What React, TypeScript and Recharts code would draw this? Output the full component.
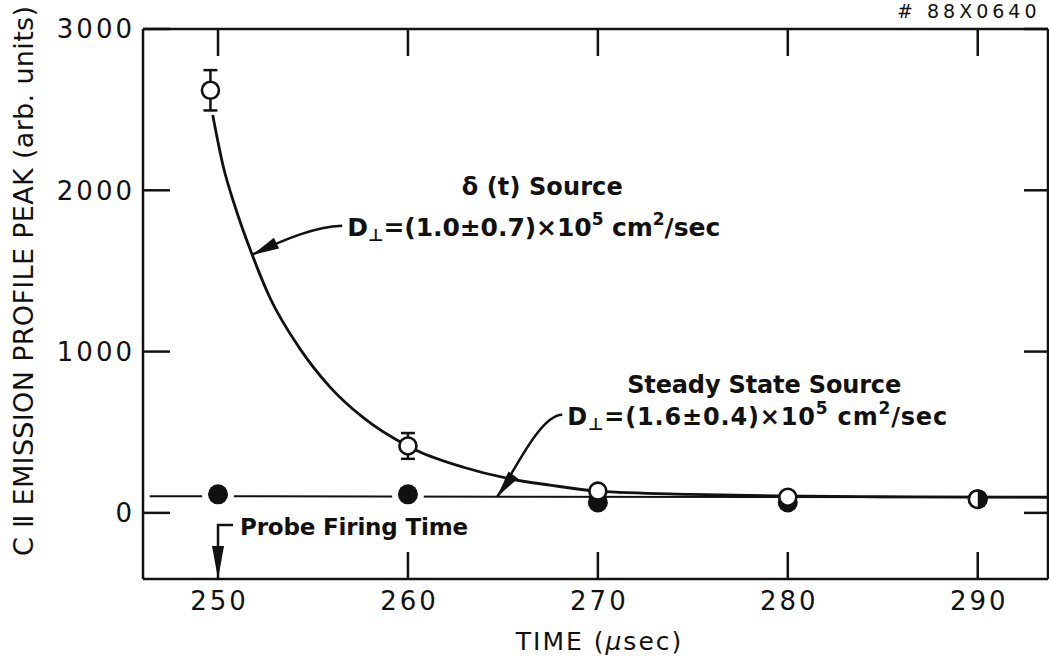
import React from 'react';
import {
  ComposedChart,
  ErrorBar,
  Label,
  Line,
  ReferenceDot,
  Scatter,
  XAxis,
  YAxis,
} from 'recharts';

// axis ticks: time in µs, peak in arbitrary units
const timeTicks = [250, 260, 270, 280, 290];
const peakTicks = [0, 1000, 2000, 3000];

// δ(t) source measurements (open circles) with their error half-widths
const deltaTimes = [249.6, 260, 270, 280, 290];
const deltaPeaks = [2620, 415, 135, 97, 85];
const deltaErrors = [125, 80, 0, 0, 0];

// steady state source measurements (filled circles)
const steadyTimes = [250, 260, 270, 280, 290];
const steadyPeaks = [115, 115, 65, 65, 85];

// fitted curve for the δ(t) source model
const deltaFitTimes = [
  249.72, 250.28, 250.9, 251.77, 252.74, 254.3, 255.9, 257.65, 260, 260.46,
  262.92, 265.2, 267.48, 270, 274.85, 279.4, 284.9, 293.7,
];
const deltaFitPeaks = [
  2467, 2146, 1898, 1609, 1332, 1020, 780, 590, 414, 387,
  283, 215, 172, 135, 115, 105, 100, 97,
];

// fitted level for the steady state model
const steadyFitTimes = [246.4, 293.7];
const steadyFitPeaks = [103, 97];

const TIME_DOMAIN: [number, number] = [246.05, 293.7];
const PEAK_DOMAIN: [number, number] = [-410, 3000];

type Row = { t: number; v: number; err?: number };

const toRows = (ts: number[], vs: number[], errs?: number[]): Row[] =>
  ts.map((t, i) => (errs ? { t, v: vs[i], err: errs[i] } : { t, v: vs[i] }));

const deltaRows = toRows(deltaTimes, deltaPeaks, deltaErrors);
const steadyRows = toRows(steadyTimes, steadyPeaks);
const deltaFitRows = toRows(deltaFitTimes, deltaFitPeaks);
const steadyFitRows = toRows(steadyFitTimes, steadyFitPeaks);

const INK = '#111';
const FONT = '"DejaVu Sans", sans-serif';
const TICK_LEN = 27;
const FRAME = { stroke: INK, strokeWidth: 2.5 };

// filled triangle pointing at (tx, ty), coming from (fx, fy)
function arrowHead(tx: number, ty: number, fx: number, fy: number, len: number, half: number) {
  const dx = tx - fx;
  const dy = ty - fy;
  const d = Math.hypot(dx, dy) || 1;
  const ux = dx / d;
  const uy = dy / d;
  const bx = tx - ux * len;
  const by = ty - uy * len;
  return `M${tx},${ty} L${bx - uy * half},${by + ux * half} L${bx + uy * half},${by - ux * half} Z`;
}

function BottomTick({ x, y, payload }: any) {
  return (
    <g>
      <line x1={x} y1={y} x2={x} y2={y - TICK_LEN} {...FRAME} />
      <text x={x + 1.5} y={y + 31} textAnchor="middle" fontFamily={FONT} fontSize={26} letterSpacing={3} fill={INK}>
        {payload.value}
      </text>
    </g>
  );
}

function TopTick({ x, y }: any) {
  return <line x1={x} y1={y} x2={x} y2={y + TICK_LEN} {...FRAME} />;
}

function LeftTick({ x, y, payload }: any) {
  return (
    <g>
      <line x1={x} y1={y} x2={x + TICK_LEN} y2={y} {...FRAME} />
      <text x={x - 8} y={y} dy="0.355em" textAnchor="end" fontFamily={FONT} fontSize={26} letterSpacing={3} fill={INK}>
        {payload.value}
      </text>
    </g>
  );
}

function RightTick({ x, y }: any) {
  return <line x1={x} y1={y} x2={x - TICK_LEN + 3} y2={y} {...FRAME} />;
}

// open circle; where both sources share a point, a split marker
function OpenMark({ cx, cy, payload }: any) {
  const shared = steadyRows.some((p) => p.t === payload.t && p.v === payload.v);
  if (shared) {
    return (
      <g>
        <circle cx={cx} cy={cy} r={10} fill={INK} />
        <path d={`M${cx},${cy - 7.5} A7.5,7.5 0 0 0 ${cx},${cy + 7.5} Z`} fill="#fff" />
      </g>
    );
  }
  return <circle cx={cx} cy={cy} r={8.5} fill="#fff" stroke={INK} strokeWidth={2.6} />;
}

// filled circle, cleared around where it stands alone on the fit line
function SolidMark({ cx, cy, payload }: any) {
  const covered = deltaRows.some((p) => p.t === payload.t && Math.abs(p.v - payload.v) < 150);
  return (
    <g>
      {!covered && <circle cx={cx} cy={cy} r={16} fill="#fff" />}
      <circle cx={cx} cy={cy} r={10} fill={INK} />
    </g>
  );
}

const SUB = 17;

function DeltaNote({ cx, cy }: any) {
  const p0 = [cx + 90, cy - 29];
  const c1 = [cx + 63, cy - 28];
  const c2 = [cx + 33, cy - 16];
  return (
    <g fontFamily={FONT} fontWeight="bold" fill={INK}>
      <path d={`M${p0} C${c1} ${c2} ${cx},${cy}`} fill="none" stroke={INK} strokeWidth={2.5} />
      <path d={arrowHead(cx, cy, c2[0], c2[1], 27, 6)} fill={INK} />
      <text x={cx + 290} y={cy - 60} textAnchor="middle" fontSize={24} textLength={161} lengthAdjust="spacing">
        δ (t) Source
      </text>
      <text x={cx + 95} y={cy - 19} fontSize={25} textLength={373} lengthAdjust="spacing">
        D<tspan fontSize={SUB} dy={5}>⊥</tspan>
        <tspan dy={-5}>=(1.0±0.7)×10</tspan>
        <tspan fontSize={SUB} dy={-11}>5</tspan>
        <tspan dy={11}> cm</tspan>
        <tspan fontSize={SUB} dy={-11}>2</tspan>
        <tspan dy={11}>/sec</tspan>
      </text>
    </g>
  );
}

function SteadyNote({ cx, cy }: any) {
  const p0 = [cx + 65, cy - 82];
  const c1 = [cx + 42, cy - 82];
  const c2 = [cx + 14, cy - 19];
  return (
    <g fontFamily={FONT} fontWeight="bold" fill={INK}>
      <path d={`M${p0} C${c1} ${c2} ${cx},${cy}`} fill="none" stroke={INK} strokeWidth={2.5} />
      <path d={arrowHead(cx, cy, c2[0], c2[1], 27, 6)} fill={INK} />
      <text x={cx + 267} y={cy - 104} textAnchor="middle" fontSize={24} textLength={274} lengthAdjust="spacing">
        Steady State Source
      </text>
      <text x={cx + 70} y={cy - 72} fontSize={24} textLength={380} lengthAdjust="spacing">
        D<tspan fontSize={SUB} dy={5}>⊥</tspan>
        <tspan dy={-5}>=(1.6±0.4)×10</tspan>
        <tspan fontSize={SUB} dy={-11}>5</tspan>
        <tspan dy={11}> cm</tspan>
        <tspan fontSize={SUB} dy={-11}>2</tspan>
        <tspan dy={11}>/sec</tspan>
      </text>
    </g>
  );
}

function ProbeNote({ cx, cy }: any) {
  return (
    <g fontFamily={FONT} fontWeight="bold" fill={INK}>
      <path d={`M${cx + 15},${cy - 54} L${cx},${cy - 54} L${cx},${cy - 20}`} fill="none" stroke={INK} strokeWidth={2.5} />
      <path d={arrowHead(cx, cy, cx, cy - 54, 33, 6)} fill={INK} />
      <text x={cx + 22} y={cy - 44} fontSize={23} textLength={228} lengthAdjust="spacing">
        Probe Firing Time
      </text>
    </g>
  );
}

function PeakTitle({ viewBox }: any) {
  const x = (viewBox?.x ?? 0) + 33;
  const y = (viewBox?.y ?? 29) + 252;
  return (
    <text
      x={x}
      y={y}
      transform={`rotate(-90, ${x}, ${y})`}
      textAnchor="middle"
      fontFamily={FONT}
      fontSize={27}
      textLength={550}
      lengthAdjust="spacing"
      fill={INK}
    >
      C Ⅱ EMISSION PROFILE PEAK (arb. units)
    </text>
  );
}

function TimeTitle({ viewBox }: any) {
  const x = (viewBox?.x ?? 143) + (viewBox?.width ?? 905) / 2 + 4;
  const y = (viewBox?.y ?? 579) + 71;
  return (
    <text x={x} y={y} textAnchor="middle" fontFamily={FONT} fontSize={25} letterSpacing={2} fill={INK}>
      TIME (<tspan fontStyle="italic">μ</tspan>sec)
    </text>
  );
}

function FigureTag({ viewBox }: any) {
  const x = (viewBox?.x ?? 143) + 754;
  return (
    <text x={x} y={18} fontFamily={FONT} fontSize={19} letterSpacing={4} fill={INK}>
      # 88X0640
    </text>
  );
}

export default function App() {
  return (
    <div style={{ position: 'absolute', left: 0, top: 0, width: 1049, height: 660, background: '#fff' }}>
      <ComposedChart width={1049} height={660} margin={{ top: 0, right: 0, bottom: 0, left: 0 }}>
        <XAxis
          dataKey="t"
          type="number"
          domain={TIME_DOMAIN}
          allowDataOverflow
          ticks={timeTicks}
          interval={0}
          height={81}
          tickSize={0}
          tickMargin={0}
          axisLine={FRAME}
          tick={BottomTick}
        >
          <Label content={TimeTitle} />
        </XAxis>
        <XAxis
          xAxisId="top"
          orientation="top"
          dataKey="t"
          type="number"
          domain={TIME_DOMAIN}
          allowDataOverflow
          ticks={timeTicks}
          interval={0}
          height={29}
          tickSize={0}
          tickMargin={0}
          axisLine={FRAME}
          tick={TopTick}
        >
          <Label content={FigureTag} />
        </XAxis>
        <YAxis
          dataKey="v"
          type="number"
          domain={PEAK_DOMAIN}
          allowDataOverflow
          ticks={peakTicks}
          interval={0}
          width={143}
          tickSize={0}
          tickMargin={0}
          axisLine={FRAME}
          tick={LeftTick}
        >
          <Label content={PeakTitle} />
        </YAxis>
        <YAxis
          yAxisId="right"
          orientation="right"
          dataKey="v"
          type="number"
          domain={PEAK_DOMAIN}
          allowDataOverflow
          ticks={peakTicks}
          interval={0}
          width={1}
          tickSize={0}
          tickMargin={0}
          axisLine={FRAME}
          tick={RightTick}
        />

        <Line
          data={steadyFitRows}
          dataKey="v"
          type="linear"
          stroke={INK}
          strokeWidth={2}
          dot={false}
          activeDot={false}
          isAnimationActive={false}
        />
        <Line
          data={deltaFitRows}
          dataKey="v"
          type="monotone"
          stroke={INK}
          strokeWidth={2.8}
          dot={false}
          activeDot={false}
          isAnimationActive={false}
        />
        <Scatter data={steadyRows} dataKey="v" shape={SolidMark} isAnimationActive={false} />
        <Scatter data={deltaRows} dataKey="v" shape={OpenMark} isAnimationActive={false}>
          <ErrorBar dataKey="err" direction="y" width={7} stroke={INK} strokeWidth={2.5} />
        </Scatter>

        <ReferenceDot x={251.8} y={1600} r={0} ifOverflow="visible" shape={DeltaNote} />
        <ReferenceDot x={264.7} y={100} r={0} ifOverflow="visible" shape={SteadyNote} />
        <ReferenceDot x={250} y={PEAK_DOMAIN[0]} r={0} ifOverflow="visible" shape={ProbeNote} />
      </ComposedChart>
    </div>
  );
}
